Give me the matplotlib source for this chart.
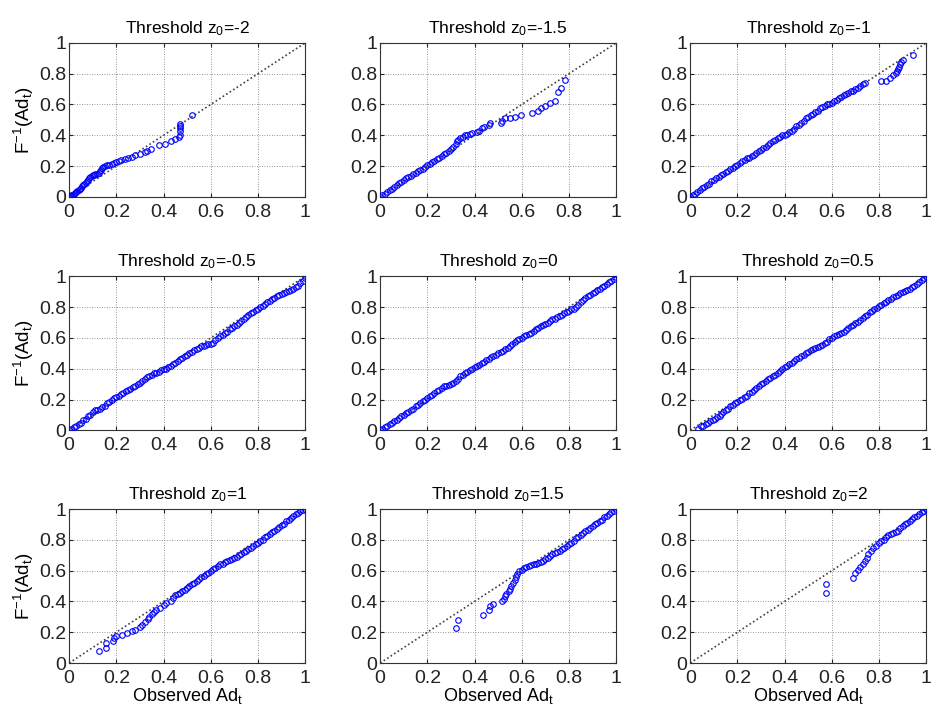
import matplotlib
matplotlib.use("Agg")
import matplotlib.pyplot as plt
from matplotlib.ticker import FormatStrFormatter, MultipleLocator

plt.rcParams["font.family"] = ["Liberation Sans", "DejaVu Sans"]
plt.rcParams["mathtext.default"] = "regular"

thresholds = ["-2", "-1.5", "-1", "-0.5", "0", "0.5", "1", "1.5", "2"]

# observed Ad_t (x) and fitted F^-1(Ad_t) (y)
obs_m2 = [0.0, 0.005, 0.01, 0.015, 0.02, 0.025, 0.03, 0.035, 0.04, 0.045, 0.05, 0.055, 0.06,
          0.065, 0.07, 0.075, 0.08, 0.085, 0.09, 0.095, 0.10, 0.105, 0.11, 0.12, 0.125, 0.13,
          0.135, 0.14, 0.145, 0.15, 0.16, 0.17, 0.18, 0.19, 0.20, 0.21, 0.22, 0.235, 0.25,
          0.265, 0.28, 0.30, 0.32, 0.33, 0.345, 0.38, 0.405, 0.43, 0.45, 0.465, 0.47, 0.47,
          0.47, 0.47, 0.47, 0.52]
fit_m2 = [0.0, 0.005, 0.01, 0.014, 0.02, 0.027, 0.033, 0.04, 0.046, 0.053, 0.06, 0.068, 0.076,
          0.084, 0.093, 0.102, 0.112, 0.122, 0.13, 0.137, 0.142, 0.145, 0.146, 0.15, 0.158, 0.166,
          0.175, 0.185, 0.193, 0.198, 0.205, 0.208, 0.215, 0.222, 0.228, 0.232, 0.238, 0.246, 0.255,
          0.262, 0.272, 0.28, 0.29, 0.298, 0.31, 0.335, 0.345, 0.36, 0.375, 0.39, 0.405, 0.425,
          0.445, 0.46, 0.475, 0.53]

obs_m15 = [0.0, 0.01, 0.02, 0.03, 0.04, 0.05, 0.06, 0.07, 0.08, 0.09, 0.10, 0.11, 0.12, 0.13,
           0.14, 0.15, 0.16, 0.17, 0.18, 0.19, 0.20, 0.21, 0.22, 0.23, 0.24, 0.25, 0.26, 0.27,
           0.28, 0.29, 0.30, 0.31, 0.32, 0.325, 0.33, 0.34, 0.35, 0.36, 0.37, 0.38, 0.39, 0.41,
           0.42, 0.43, 0.44, 0.46, 0.465, 0.51, 0.515, 0.53, 0.55, 0.57, 0.595, 0.645, 0.67,
           0.68, 0.70, 0.72, 0.74, 0.755, 0.765, 0.785]
fit_m15 = [0.0, 0.01, 0.02, 0.032, 0.043, 0.054, 0.065, 0.076, 0.088, 0.098, 0.11, 0.12, 0.13,
           0.138, 0.146, 0.155, 0.165, 0.173, 0.183, 0.193, 0.205, 0.215, 0.225, 0.235, 0.245,
           0.255, 0.268, 0.278, 0.288, 0.296, 0.31, 0.325, 0.345, 0.36, 0.37, 0.38, 0.39, 0.40,
           0.405, 0.41, 0.415, 0.42, 0.43, 0.445, 0.455, 0.47, 0.48, 0.48, 0.49, 0.51, 0.51,
           0.52, 0.535, 0.545, 0.555, 0.575, 0.59, 0.61, 0.625, 0.68, 0.705, 0.76]

obs_m1 = [0.0, 0.01, 0.02, 0.03, 0.04, 0.05, 0.06, 0.07, 0.08, 0.09,
          0.10, 0.11, 0.12, 0.13, 0.14, 0.15, 0.16, 0.17, 0.18, 0.19,
          0.20, 0.21, 0.22, 0.23, 0.24, 0.25, 0.26, 0.27, 0.28, 0.29,
          0.30, 0.31, 0.32, 0.33, 0.34, 0.35, 0.36, 0.37, 0.38, 0.39,
          0.40, 0.41, 0.42, 0.43, 0.44, 0.45, 0.46, 0.47, 0.48, 0.49,
          0.50, 0.51, 0.52, 0.53, 0.54, 0.55, 0.56, 0.57, 0.58, 0.59,
          0.60, 0.61, 0.62, 0.63, 0.64, 0.65, 0.66, 0.67, 0.68, 0.69,
          0.70, 0.71, 0.72, 0.73, 0.74,
          0.81, 0.83, 0.845, 0.86, 0.87, 0.875, 0.88, 0.885, 0.89, 0.895, 0.90, 0.945]
fit_m1 = [0.0, 0.01, 0.02, 0.035, 0.045, 0.055, 0.065, 0.075, 0.085, 0.10,
          0.11, 0.12, 0.13, 0.14, 0.15, 0.16, 0.17, 0.18, 0.19, 0.20,
          0.21, 0.22, 0.23, 0.24, 0.25, 0.255, 0.265, 0.275, 0.285, 0.295,
          0.305, 0.315, 0.325, 0.335, 0.35, 0.36, 0.37, 0.38, 0.39, 0.40,
          0.405, 0.41, 0.42, 0.43, 0.44, 0.46, 0.47, 0.48, 0.495, 0.51,
          0.52, 0.53, 0.54, 0.55, 0.56, 0.575, 0.585, 0.59, 0.60, 0.605,
          0.61, 0.62, 0.63, 0.64, 0.65, 0.66, 0.67, 0.675, 0.685, 0.69,
          0.70, 0.71, 0.72, 0.73, 0.74,
          0.75, 0.755, 0.775, 0.79, 0.805, 0.815, 0.83, 0.845, 0.86, 0.875, 0.89, 0.92]

obs_m05 = [0.0, 0.01, 0.02, 0.03, 0.04, 0.05, 0.06, 0.07, 0.08, 0.09,
           0.10, 0.11, 0.12, 0.13, 0.14, 0.15, 0.16, 0.17, 0.18, 0.19,
           0.20, 0.21, 0.22, 0.23, 0.24, 0.25, 0.26, 0.27, 0.28, 0.29,
           0.30, 0.31, 0.32, 0.33, 0.34, 0.35, 0.36, 0.37, 0.38, 0.39,
           0.40, 0.41, 0.42, 0.43, 0.44, 0.45, 0.46, 0.47, 0.48, 0.49,
           0.50, 0.51, 0.52, 0.53, 0.54, 0.55, 0.56, 0.57, 0.58, 0.59,
           0.60, 0.61, 0.62, 0.63, 0.64, 0.65, 0.66, 0.67, 0.68, 0.69,
           0.70, 0.71, 0.72, 0.73, 0.74, 0.75, 0.76, 0.77, 0.78, 0.79,
           0.80, 0.81, 0.82, 0.83, 0.84, 0.85, 0.86, 0.87, 0.88, 0.89,
           0.90, 0.91, 0.92, 0.93, 0.94, 0.95, 0.96, 0.97, 0.98, 0.99, 1.0]
fit_m05 = [0.0, 0.01, 0.02, 0.03, 0.04, 0.05, 0.065, 0.075, 0.09, 0.10,
           0.12, 0.13, 0.135, 0.14, 0.15, 0.16, 0.175, 0.185, 0.20, 0.21,
           0.215, 0.225, 0.235, 0.245, 0.255, 0.26, 0.27, 0.28, 0.29, 0.30,
           0.31, 0.32, 0.33, 0.345, 0.355, 0.36, 0.37, 0.375, 0.38, 0.39,
           0.395, 0.40, 0.41, 0.42, 0.43, 0.44, 0.45, 0.46, 0.47, 0.48,
           0.49, 0.50, 0.51, 0.52, 0.53, 0.535, 0.545, 0.55, 0.555, 0.56,
           0.56, 0.57, 0.585, 0.60, 0.61, 0.62, 0.63, 0.64, 0.655, 0.665,
           0.675, 0.685, 0.695, 0.71, 0.72, 0.735, 0.75, 0.76, 0.77, 0.78,
           0.79, 0.80, 0.81, 0.82, 0.83, 0.84, 0.85, 0.86, 0.87, 0.88,
           0.885, 0.89, 0.90, 0.905, 0.91, 0.92, 0.93, 0.94, 0.955, 0.97, 0.99]

obs_0 = [0.0, 0.01, 0.02, 0.03, 0.04, 0.05, 0.06, 0.07, 0.08, 0.09,
         0.10, 0.11, 0.12, 0.13, 0.14, 0.15, 0.16, 0.17, 0.18, 0.19,
         0.20, 0.21, 0.22, 0.23, 0.24, 0.25, 0.26, 0.27, 0.28, 0.29,
         0.30, 0.31, 0.32, 0.33, 0.34, 0.35, 0.36, 0.37, 0.38, 0.39,
         0.40, 0.41, 0.42, 0.43, 0.44, 0.45, 0.46, 0.47, 0.48, 0.49,
         0.50, 0.51, 0.52, 0.53, 0.54, 0.55, 0.56, 0.57, 0.58, 0.59,
         0.60, 0.61, 0.62, 0.63, 0.64, 0.65, 0.66, 0.67, 0.68, 0.69,
         0.70, 0.71, 0.72, 0.73, 0.74, 0.75, 0.76, 0.77, 0.78, 0.79,
         0.80, 0.81, 0.82, 0.83, 0.84, 0.85, 0.86, 0.87, 0.88, 0.89,
         0.90, 0.91, 0.92, 0.93, 0.94, 0.95, 0.96, 0.97, 0.98, 0.99, 1.0]
fit_0 = [0.0, 0.01, 0.02, 0.03, 0.04, 0.05, 0.06, 0.07, 0.08, 0.09,
         0.10, 0.11, 0.12, 0.13, 0.14, 0.155, 0.165, 0.175, 0.19, 0.20,
         0.21, 0.22, 0.23, 0.24, 0.255, 0.265, 0.275, 0.285, 0.29, 0.295,
         0.30, 0.31, 0.32, 0.335, 0.35, 0.36, 0.37, 0.38, 0.39, 0.40,
         0.41, 0.42, 0.425, 0.435, 0.445, 0.455, 0.465, 0.475, 0.48, 0.49,
         0.50, 0.51, 0.515, 0.525, 0.535, 0.545, 0.56, 0.575, 0.585, 0.595,
         0.60, 0.61, 0.62, 0.625, 0.635, 0.645, 0.655, 0.665, 0.675, 0.685,
         0.69, 0.70, 0.71, 0.72, 0.725, 0.735, 0.745, 0.75, 0.76, 0.765,
         0.775, 0.785, 0.79, 0.80, 0.815, 0.83, 0.845, 0.86, 0.87, 0.88,
         0.89, 0.90, 0.91, 0.92, 0.93, 0.94, 0.95, 0.96, 0.97, 0.98, 0.995]

obs_p05 = [0.035, 0.045, 0.055, 0.065, 0.075, 0.085, 0.095, 0.105, 0.115, 0.125, 0.13,
           0.14, 0.15, 0.16, 0.17, 0.18, 0.19,
           0.20, 0.21, 0.22, 0.23, 0.24, 0.25, 0.26, 0.27, 0.28, 0.29,
           0.30, 0.31, 0.32, 0.33, 0.34, 0.35, 0.36, 0.37, 0.38, 0.39,
           0.40, 0.41, 0.42, 0.43, 0.44, 0.45, 0.46, 0.47, 0.48, 0.49,
           0.50, 0.51, 0.52, 0.53, 0.54, 0.55, 0.56, 0.57, 0.58, 0.59,
           0.60, 0.61, 0.62, 0.63, 0.64, 0.65, 0.66, 0.67, 0.68, 0.69,
           0.70, 0.71, 0.72, 0.73, 0.74, 0.75, 0.76, 0.77, 0.78, 0.79,
           0.80, 0.81, 0.82, 0.83, 0.84, 0.85, 0.86, 0.87, 0.88, 0.89,
           0.90, 0.91, 0.92, 0.93, 0.94, 0.95, 0.96, 0.97, 0.98, 0.99, 1.0]
fit_p05 = [0.01, 0.025, 0.03, 0.04, 0.05, 0.06, 0.07, 0.075, 0.085, 0.095, 0.105,
           0.12, 0.13, 0.14, 0.155, 0.165, 0.175,
           0.185, 0.195, 0.205, 0.215, 0.225, 0.24, 0.25, 0.26, 0.275, 0.285,
           0.30, 0.31, 0.32, 0.33, 0.34, 0.35, 0.36, 0.375, 0.385, 0.395,
           0.41, 0.42, 0.43, 0.44, 0.45, 0.46, 0.47, 0.48, 0.49, 0.50,
           0.51, 0.52, 0.53, 0.535, 0.54, 0.545, 0.555, 0.565, 0.575, 0.59,
           0.60, 0.61, 0.62, 0.625, 0.635, 0.64, 0.65, 0.665, 0.675, 0.685,
           0.695, 0.705, 0.715, 0.73, 0.74, 0.75, 0.765, 0.775, 0.785, 0.795,
           0.805, 0.815, 0.825, 0.835, 0.845, 0.855, 0.865, 0.875, 0.88, 0.89,
           0.895, 0.905, 0.91, 0.92, 0.93, 0.94, 0.95, 0.96, 0.975, 0.99, 1.0]

obs_p1 = [0.125, 0.155, 0.157, 0.185, 0.19, 0.20, 0.225, 0.245, 0.265, 0.28, 0.30, 0.31,
          0.32, 0.335, 0.34, 0.35, 0.36, 0.37, 0.385, 0.40, 0.41, 0.43, 0.44,
          0.45, 0.46, 0.47, 0.48, 0.49,
          0.50, 0.51, 0.52, 0.53, 0.54, 0.55, 0.56, 0.57, 0.58, 0.59,
          0.60, 0.61, 0.62, 0.63, 0.64, 0.65, 0.66, 0.67, 0.68, 0.69,
          0.70, 0.71, 0.72, 0.73, 0.74, 0.75, 0.76, 0.77, 0.78, 0.79,
          0.80, 0.81, 0.82, 0.83, 0.84, 0.85, 0.86, 0.87, 0.88, 0.89,
          0.90, 0.91, 0.92, 0.93, 0.94, 0.95, 0.96, 0.97, 0.98, 0.99, 1.0]
fit_p1 = [0.075, 0.10, 0.13, 0.145, 0.165, 0.175, 0.185, 0.195, 0.205, 0.215, 0.235, 0.25,
          0.265, 0.285, 0.30, 0.32, 0.33, 0.345, 0.36, 0.375, 0.39, 0.405, 0.425,
          0.44, 0.45, 0.455, 0.465, 0.475,
          0.49, 0.50, 0.51, 0.52, 0.53, 0.545, 0.56, 0.565, 0.575, 0.585,
          0.60, 0.61, 0.62, 0.63, 0.64, 0.645, 0.655, 0.665, 0.67, 0.675,
          0.68, 0.69, 0.70, 0.71, 0.72, 0.73, 0.74, 0.75, 0.76, 0.77,
          0.78, 0.79, 0.80, 0.815, 0.825, 0.835, 0.85, 0.86, 0.87, 0.885,
          0.895, 0.905, 0.92, 0.93, 0.94, 0.955, 0.965, 0.975, 0.985, 0.995, 1.0]

obs_p15 = [0.32, 0.33, 0.435, 0.46, 0.465, 0.48, 0.515, 0.525, 0.53, 0.535, 0.545, 0.55,
           0.555, 0.565, 0.57, 0.575, 0.58, 0.59,
           0.60, 0.61, 0.62, 0.63, 0.64, 0.65, 0.66, 0.67, 0.68, 0.69,
           0.70, 0.71, 0.72, 0.73, 0.74, 0.75, 0.76, 0.77, 0.78, 0.79,
           0.80, 0.81, 0.82, 0.83, 0.84, 0.85, 0.86, 0.87, 0.88, 0.89,
           0.90, 0.91, 0.92, 0.93, 0.94, 0.95, 0.96, 0.97, 0.98, 0.99, 1.0]
fit_p15 = [0.23, 0.28, 0.315, 0.345, 0.37, 0.385, 0.40, 0.415, 0.435, 0.45, 0.465, 0.48,
           0.50, 0.52, 0.54, 0.56, 0.58, 0.595,
           0.605, 0.615, 0.625, 0.63, 0.635, 0.64, 0.645, 0.65, 0.655, 0.665,
           0.675, 0.685, 0.695, 0.705, 0.715, 0.72, 0.73, 0.74, 0.75, 0.76,
           0.77, 0.78, 0.795, 0.81, 0.82, 0.83, 0.845, 0.855, 0.865, 0.875,
           0.89, 0.90, 0.91, 0.92, 0.93, 0.945, 0.955, 0.97, 0.98, 0.99, 1.0]

obs_p2 = [0.575, 0.575, 0.69, 0.70, 0.71, 0.72, 0.73, 0.74, 0.75, 0.755, 0.765, 0.775,
          0.785, 0.80,
          0.81, 0.82, 0.83, 0.84, 0.85, 0.86, 0.87, 0.88, 0.89,
          0.90, 0.91, 0.92, 0.93, 0.94, 0.95, 0.96, 0.97, 0.98, 0.99, 1.0]
fit_p2 = [0.455, 0.515, 0.555, 0.585, 0.605, 0.625, 0.645, 0.665, 0.685, 0.71, 0.73, 0.745,
          0.76, 0.78,
          0.79, 0.80, 0.815, 0.83, 0.84, 0.845, 0.85, 0.86, 0.875,
          0.89, 0.90, 0.91, 0.925, 0.935, 0.945, 0.955, 0.965, 0.98, 0.99, 1.0]

panels = [
    (obs_m2, fit_m2), (obs_m15, fit_m15), (obs_m1, fit_m1),
    (obs_m05, fit_m05), (obs_0, fit_0), (obs_p05, fit_p05),
    (obs_p1, fit_p1), (obs_p15, fit_p15), (obs_p2, fit_p2),
]

fig = plt.figure(figsize=(9.34, 7.16), dpi=100)
lefts = [0.074, 0.407, 0.739]
bottoms = [0.725, 0.399, 0.074]

for i, (obs, fit) in enumerate(panels):
    row, col = divmod(i, 3)
    ax = fig.add_axes([lefts[col], bottoms[row], 0.2527, 0.2151])
    ax.plot([0, 1], [0, 1], color="0.25", linestyle=(0, (1, 1.5)), linewidth=1.2, zorder=2)
    ax.plot(obs, fit, "o", markersize=4, markerfacecolor="none",
            markeredgecolor="#0000ff", markeredgewidth=0.8, zorder=3)
    ax.set_xlim(0, 1)
    ax.set_ylim(0, 1)
    ax.xaxis.set_major_locator(MultipleLocator(0.2))
    ax.yaxis.set_major_locator(MultipleLocator(0.2))
    ax.xaxis.set_major_formatter(FormatStrFormatter("%g"))
    ax.yaxis.set_major_formatter(FormatStrFormatter("%g"))
    ax.grid(True, color="0.45", linestyle=(0, (1, 2)), linewidth=0.6)
    ax.tick_params(direction="in", length=3, labelsize=14, top=True, right=True,
                   colors="#222222")
    ax.tick_params(axis="x", pad=5)
    ax.tick_params(axis="y", pad=2)
    for sp in ax.spines.values():
        sp.set_linewidth(0.8)
        sp.set_color("#333333")
    ax.set_title(f"Threshold $z_0$={thresholds[i]}", fontsize=12.5, pad=7)
    if col == 0:
        ax.set_ylabel("$F^{-1}(Ad_t)$", fontsize=13.5, labelpad=2)
    if row == 2:
        ax.set_xlabel("Observed $Ad_t$", fontsize=13, labelpad=-1)

fig.savefig("out.png", dpi=100)
